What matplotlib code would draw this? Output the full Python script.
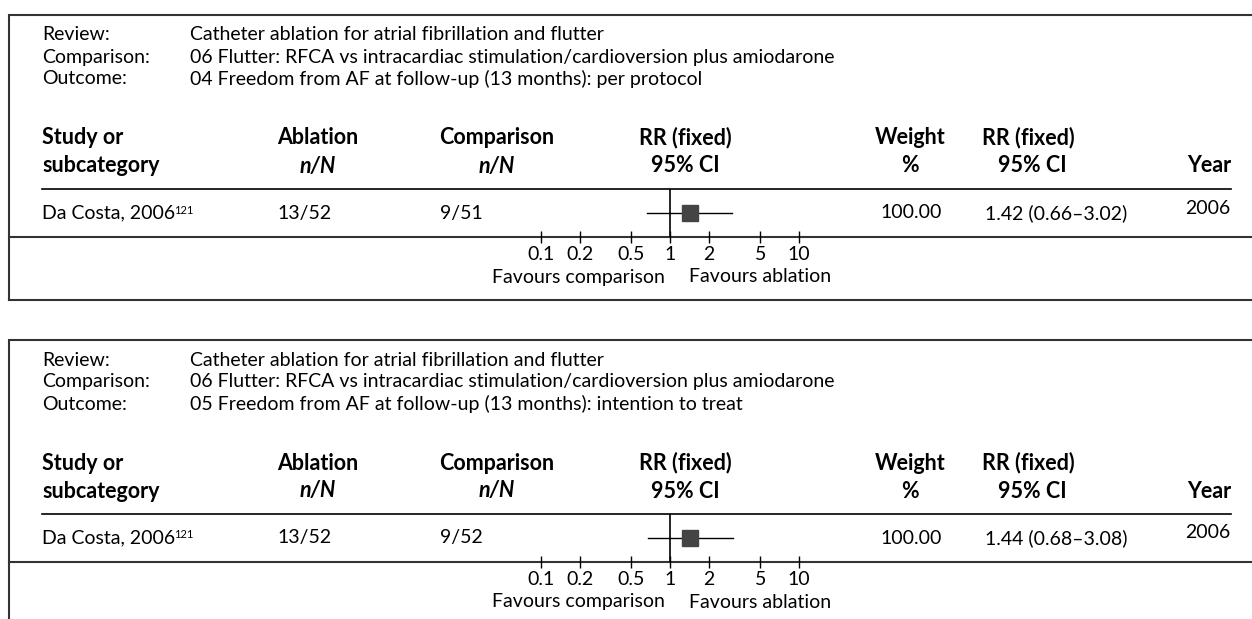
import numpy as np
import matplotlib
matplotlib.use("Agg")
import matplotlib.pyplot as plt

plt.rcParams['font.family'] = ['Lato', 'DejaVu Sans']

# panel header text
meta_labels = ['Review:', 'Comparison:', 'Outcome:']
review = 'Catheter ablation for atrial fibrillation and flutter'
comparison = '06 Flutter: RFCA vs intracardiac stimulation/cardioversion plus amiodarone'
outcomes = ['04 Freedom from AF at follow-up (13 months): per protocol',
            '05 Freedom from AF at follow-up (13 months): intention to treat']

# study rows, one per panel
studies = ['Da Costa, 2006', 'Da Costa, 2006']
refs = ['121', '121']
ablation = ['13/52', '13/52']
control = ['9/51', '9/52']
rr = [1.42, 1.44]
rr_lo = [0.66, 0.68]
rr_hi = [3.02, 3.08]
weights = ['100.00', '100.00']
years = ['2006', '2006']

ticks = [0.1, 0.2, 0.5, 1, 2, 5, 10]
tick_labels = ['0.1', '0.2', '0.5', '1', '2', '5', '10']

W, H = 1252, 619
fig = plt.figure(figsize=(W / 100, H / 100), dpi=100)
bg = fig.add_axes([0, 0, 1, 1])
bg.set_xlim(0, W)
bg.set_ylim(H, 0)
bg.axis('off')

fs = 14
fsb = 15.5
box_c = '#333333'


def draw_panel(i, dy):
    # box outline (open on the right, runs off the page)
    bg.plot([W + 5, 9, 9], [15 + dy, 15 + dy, min(300 + dy, H + 5)], color=box_c, lw=1.5,
            solid_joinstyle='miter')
    if 300 + dy < H:
        bg.plot([9, W + 5], [300 + dy, 300 + dy], color=box_c, lw=1.5)

    # review / comparison / outcome
    for k, (lab, val) in enumerate(zip(meta_labels, [review, comparison, outcomes[i]])):
        y = 35 + dy + 22 * k
        bg.text(42, y, lab, fontsize=fs, va='center', ha='left')
        bg.text(190, y, val, fontsize=fs, va='center', ha='left')

    # column headers
    hy1, hy2 = 138 + dy, 166 + dy
    bold = dict(fontsize=fsb, fontweight='bold', va='center')
    bg.text(42, hy1, 'Study or', ha='left', **bold)
    bg.text(42, hy2, 'subcategory', ha='left', **bold)
    bg.text(318, hy1, 'Ablation', ha='center', **bold)
    bg.text(318, hy2, 'n/N', ha='center', style='italic', **bold)
    bg.text(497, hy1, 'Comparison', ha='center', **bold)
    bg.text(497, hy2, 'n/N', ha='center', style='italic', **bold)
    bg.text(685, hy1, 'RR (fixed)', ha='center', **bold)
    bg.text(685, hy2, '95% CI', ha='center', **bold)
    bg.text(910, hy1, 'Weight', ha='center', **bold)
    bg.text(910, hy2, '%', ha='center', **bold)
    bg.text(1028, hy1, 'RR (fixed)', ha='center', **bold)
    bg.text(1032, hy2, '95% CI', ha='center', **bold)
    bg.text(1231, hy2, 'Year', ha='right', **bold)

    bg.plot([42, 1231], [189 + dy, 189 + dy], color='black', lw=1.2)
    bg.plot([9, W + 5], [237 + dy, 237 + dy], color=box_c, lw=1.5)

    # study row
    ry = 213 + dy
    t = bg.text(42, ry, studies[i], fontsize=fs, va='center', ha='left')
    bg.annotate(refs[i], xy=(1, 1), xycoords=t, xytext=(-1, 0), textcoords='offset points',
                fontsize=8, va='top', ha='left')
    bg.text(277, ry, ablation[i], fontsize=fs, va='center', ha='left')
    bg.text(440, ry, control[i], fontsize=fs, va='center', ha='left')
    bg.text(880, ry, weights[i], fontsize=fs, va='center', ha='left')
    bg.text(985, ry, f'{rr[i]:.2f} ({rr_lo[i]:.2f}–{rr_hi[i]:.2f})', fontsize=fs,
            va='center', ha='left')
    bg.text(1185, ry - 5, years[i], fontsize=fs, va='center', ha='left')

    bg.text(665, 277 + dy, 'Favours comparison', fontsize=fs, va='center', ha='right')
    bg.text(689, 277 + dy, 'Favours ablation', fontsize=fs, va='center', ha='left')

    # forest plot axes
    x0, x1 = 541, 799
    ax = fig.add_axes([x0 / W, 1 - (237 + dy) / H, (x1 - x0) / W, 48 / H])
    ax.set_xscale('log')
    ax.set_xlim(0.1, 10)
    ax.set_ylim(0, 1)
    ax.patch.set_visible(False)
    for s in ax.spines.values():
        s.set_visible(False)
    ax.set_xticks(ticks)
    ax.set_xticklabels(tick_labels)
    ax.minorticks_off()
    ax.set_yticks([])
    ax.tick_params(axis='x', direction='inout', length=9, width=1, labelsize=fs, pad=2)
    ax.axvline(1, color='black', lw=1.2)
    ax.plot([rr_lo[i], rr_hi[i]], [0.5, 0.5], color='black', lw=1, clip_on=False)
    ax.plot([rr[i]], [0.5], marker='s', markersize=12.2, color='#444444', clip_on=False)


draw_panel(0, 0)
draw_panel(1, 325)

fig.savefig('out.png', dpi=100)
